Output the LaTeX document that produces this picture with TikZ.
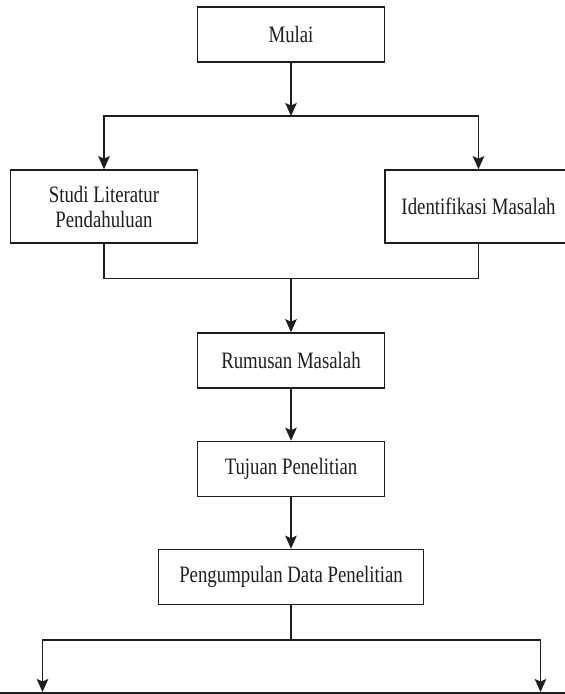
\documentclass[tikz,border=0pt]{standalone}
\usepackage{fontspec}
\usepackage{graphicx}
\setmainfont{Liberation Serif}
\usetikzlibrary{arrows.meta}
\newcommand{\nx}[1]{\scalebox{0.8}[1]{#1}}
\definecolor{ink}{HTML}{1E1E1E}
\tikzset{
  box/.style={draw=ink, line width=1.6pt, fill=white, minimum width=187pt, inner sep=0pt,
    font=\fontsize{23.5}{25}\selectfont, text=ink, align=center},
  conn/.style={draw=ink, line width=1.5pt},
  arr/.style={conn, -{Stealth[length=13pt,width=11.5pt,inset=2.5pt]}}
}
\begin{document}
\begin{tikzpicture}[x=1pt,y=-1pt]
\useasboundingbox (0,0) rectangle (565,694);
\clip (0,0) rectangle (565,694);
\fill[white] (0,0) rectangle (565,694);
\node[box, minimum height=55pt] (mulai) at (291,34.5) {\nx{Mulai}};
\node[box, minimum height=73pt] (studi) at (104,206.5) {\nx{Studi Literatur}\\\nx{Pendahuluan}};
\node[box, minimum height=73pt] (idf) at (478.5,206.5) {\nx{Identifikasi Masalah}};
\node[box, minimum height=55pt] (rum) at (291,360.5) {\nx{Rumusan Masalah}};
\node[box, minimum height=55pt] (tuj) at (291,469) {\nx{Tujuan Penelitian}};
\node[box, minimum height=55pt, minimum width=265pt] (peng) at (291,577) {\nx{Pengumpulan Data Penelitian}};
\coordinate (br) at (291,116);
\coordinate (mg) at (291,278.5);
\coordinate (br2) at (291,640);
\coordinate (bl) at (42.5,692);
\coordinate (brr) at (540.5,692);
\draw[arr] (mulai.south) -- (br);
\draw[arr] (br) -| (studi.north);
\draw[arr] (br) -| (idf.north);
\draw[conn] (studi.south) |- (mg) -| (idf.south);
\draw[arr] (mg) -- (rum.north);
\draw[arr] (rum.south) -- (tuj.north);
\draw[arr] (tuj.south) -- (peng.north);
\draw[conn] (peng.south) -- (br2);
\draw[arr] (br2) -| (bl);
\draw[arr] (br2) -| (brr);
\fill[ink] (0,691.5) rectangle (565,694);
\end{tikzpicture}
\end{document}
